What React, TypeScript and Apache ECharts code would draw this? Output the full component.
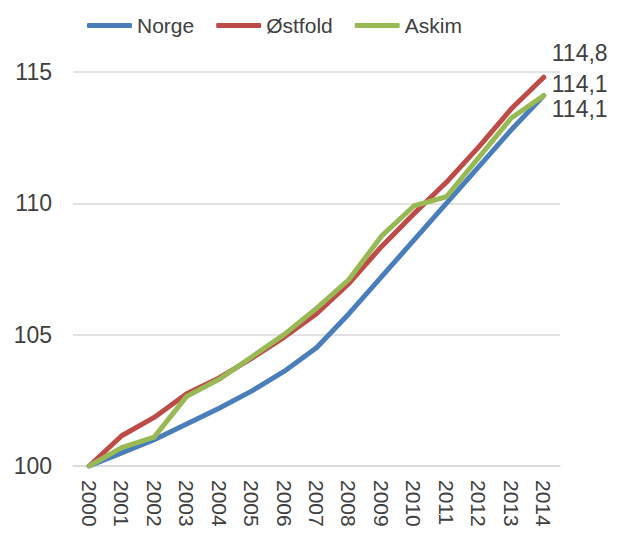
import React, { useEffect, useRef } from "react";
import * as echarts from "echarts";

const years = ["2000","2001","2002","2003","2004","2005","2006","2007","2008","2009","2010","2011","2012","2013","2014"];
const norge = [100, 100.5, 101.0, 101.6, 102.2, 102.85, 103.6, 104.5, 105.8, 107.2, 108.6, 110.0, 111.4, 112.8, 114.1];
const ostfold = [100, 101.15, 101.85, 102.75, 103.35, 104.1, 104.9, 105.8, 106.95, 108.35, 109.6, 110.8, 112.15, 113.6, 114.8];
const askim = [100, 100.7, 101.1, 102.65, 103.3, 104.15, 105.0, 106.0, 107.1, 108.75, 109.9, 110.25, 111.75, 113.25, 114.1];
const yTicks = { min: 100, max: 115, interval: 5 };

const FONT = "'Liberation Sans', Arial, sans-serif";
const TXT = "#404040";

export default function App() {
  const ref = useRef<HTMLDivElement>(null);
  useEffect(() => {
    document.body.style.margin = "0";
    const chart = echarts.init(ref.current!, undefined, { renderer: "svg" });
    const mk = (name: string, color: string, data: number[], dy: number) => ({
      name,
      type: "line",
      data,
      symbol: "none",
      color,
      lineStyle: { width: 5, color, cap: "round", join: "round" },
      endLabel: {
        show: true,
        distance: 8,
        offset: [0, dy],
        formatter: (p: any) => Number(p.value).toFixed(1).replace(".", ","),
        fontSize: 23,
        fontFamily: FONT,
        color: TXT,
      },
    });
    chart.setOption({
      animation: false,
      textStyle: { fontFamily: FONT },
      legend: {
        top: 10,
        left: 82,
        icon: "roundRect",
        itemWidth: 45,
        itemHeight: 5,
        itemGap: 22,
        textStyle: { fontSize: 21, color: TXT, fontFamily: FONT },
        data: ["Norge", "Østfold", "Askim"],
      },
      grid: { left: 73, right: 65, top: 72, bottom: 67, containLabel: false },
      xAxis: {
        type: "category",
        data: years,
        boundaryGap: true,
        axisLine: { lineStyle: { color: "#D9D9D9", width: 1.5 } },
        axisTick: { show: false },
        axisLabel: { rotate: -90, fontSize: 21, color: TXT, fontFamily: FONT, margin: 14 },
      },
      yAxis: {
        type: "value",
        min: yTicks.min,
        max: yTicks.max,
        interval: yTicks.interval,
        axisLine: { show: false },
        axisTick: { show: false },
        splitLine: { lineStyle: { color: "#D9D9D9", width: 1.5 } },
        axisLabel: { fontSize: 23, color: TXT, fontFamily: FONT, margin: 21 },
      },
      series: [
        mk("Norge", "#4A7EBB", norge, 13),
        mk("Østfold", "#BE4B48", ostfold, -24),
        mk("Askim", "#98B954", askim, -12),
      ],
    });
    return () => chart.dispose();
  }, []);
  return <div ref={ref} style={{ width: 625, height: 533 }} />;
}
